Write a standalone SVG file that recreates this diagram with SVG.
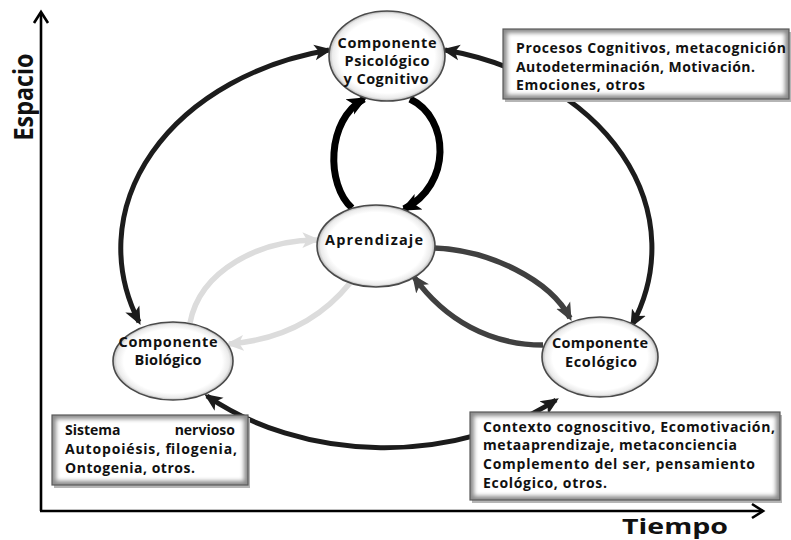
<svg xmlns="http://www.w3.org/2000/svg" width="791" height="540" viewBox="0 0 791 540">
<style>
  text { font-family: "Open Sans", "Liberation Sans", sans-serif; font-weight: bold; fill: #111; }
  .nt { font-size: 14.5px; text-anchor: middle; }
  .bt { font-size: 14px; }
  .node { fill: url(#nodeGrad); stroke: #4a4a4a; stroke-width: 1.6; }
  .outer { fill: none; stroke: #1c1c1c; stroke-width: 5; marker-start: url(#ahOuter); marker-end: url(#ahOuter); }
  .inner { fill: none; stroke: #000; stroke-width: 7; marker-end: url(#ahInner); }
  .eco { fill: none; stroke: #404040; stroke-width: 5.5; marker-end: url(#ahEco); }
  .bio { fill: none; stroke: #dcdcdc; stroke-width: 5.5; marker-end: url(#ahBio); }
  .axis { fill: none; stroke: #000; stroke-width: 2.6; }
  .boxbg { fill: #8c8c8c; }
  .boxshadow { fill: #b5b5b5; }
  .boxin { fill: #fff; filter: url(#soft); }
  .boxframe { fill: none; stroke: #5a5a5a; stroke-width: 1.2; }
</style>
<defs>
  <radialGradient id="nodeGrad" cx="50%" cy="50%" r="50%">
    <stop offset="0" stop-color="#ffffff"/>
    <stop offset="0.82" stop-color="#ffffff"/>
    <stop offset="0.94" stop-color="#ebebeb"/>
    <stop offset="1" stop-color="#b4b4b4"/>
  </radialGradient>
  <filter id="soft" x="-0.05" y="-0.1" width="1.1" height="1.2">
    <feGaussianBlur stdDeviation="2.2"/>
  </filter>
  <marker id="ahOuter" markerUnits="userSpaceOnUse" markerWidth="18" markerHeight="18" viewBox="0 0 16 16" refX="13" refY="8" orient="auto-start-reverse">
    <path d="M0,1 L16,8 L0,15 L4,8 z" fill="#1c1c1c"/>
  </marker>
  <marker id="ahInner" markerUnits="userSpaceOnUse" markerWidth="20" markerHeight="20" viewBox="0 0 16 16" refX="13" refY="8" orient="auto">
    <path d="M0,1 L16,8 L0,15 L4,8 z" fill="#000"/>
  </marker>
  <marker id="ahEco" markerUnits="userSpaceOnUse" markerWidth="18" markerHeight="18" viewBox="0 0 16 16" refX="13" refY="8" orient="auto">
    <path d="M0,1 L16,8 L0,15 L4,8 z" fill="#404040"/>
  </marker>
  <marker id="ahBio" markerUnits="userSpaceOnUse" markerWidth="18" markerHeight="18" viewBox="0 0 16 16" refX="13" refY="8" orient="auto">
    <path d="M0,1 L16,8 L0,15 L4,8 z" fill="#dcdcdc"/>
  </marker>
</defs>

<rect width="791" height="540" fill="#fff"/>

<g id="axes">
  <path class="axis" d="M41,511 L41,13"/>
  <path class="axis" d="M34,23 L41,12 L48,23"/>
  <path class="axis" d="M40,511 L762,511"/>
  <path class="axis" d="M752,504 L763,511 L752,518"/>
  <text x="0" y="0" transform="translate(33,97) rotate(-90)" font-size="26" text-anchor="middle" textLength="87" lengthAdjust="spacingAndGlyphs">Espacio</text>
  <text x="622" y="534" font-size="22" textLength="106" lengthAdjust="spacingAndGlyphs">Tiempo</text>
</g>

<g id="connectors">
  <path class="outer" d="M139,322 A266,203 0 0 1 329,50"/>
  <path class="outer" d="M445,50 A266,203 0 0 1 632,325"/>
  <path class="outer" d="M556,400 A266,203 0 0 1 207,396"/>
  <path class="inner" d="M352,208 C326,185 326,120 364,99"/>
  <path class="inner" d="M410,99 C450,118 452,185 404,209"/>
  <path class="eco" d="M434,248 C490,250 550,280 570,318"/>
  <path class="eco" d="M543,345 C490,345 445,320 414,277"/>
  <path class="bio" d="M190,323 C200,270 260,240 317,240"/>
  <path class="bio" d="M350,283 C320,320 280,340 229,344"/>
</g>

<g id="psicologico">
  <ellipse class="node" cx="387" cy="56" rx="58" ry="45"/>
  <text class="nt" x="387" y="48" textLength="99">Componente</text>
  <text class="nt" x="387" y="66" textLength="85">Psicológico</text>
  <text class="nt" x="386" y="84" textLength="85">y Cognitivo</text>
</g>

<g id="aprendizaje">
  <ellipse class="node" cx="376" cy="246" rx="59" ry="41"/>
  <text class="nt" x="374" y="245" textLength="98">Aprendizaje</text>
</g>

<g id="biologico">
  <ellipse class="node" cx="173" cy="361" rx="60" ry="39"/>
  <text class="nt" x="168" y="347" textLength="99">Componente</text>
  <text class="nt" x="168" y="365" textLength="67">Biológico</text>
</g>

<g id="ecologico">
  <ellipse class="node" cx="600" cy="357" rx="58" ry="40"/>
  <text class="nt" x="600" y="348" textLength="96">Componente</text>
  <text class="nt" x="601" y="367" textLength="72">Ecológico</text>
</g>

<g id="box-psicologico">
  <rect class="boxshadow" x="505" y="32" width="286" height="70"/>
  <rect class="boxbg" x="503" y="29" width="286" height="70"/>
  <rect class="boxin" x="507" y="33" width="278" height="62"/>
  <rect class="boxframe" x="503" y="29" width="286" height="70"/>
  <text class="bt" x="516" y="53" textLength="270">Procesos Cognitivos, metacognición</text>
  <text class="bt" x="516" y="72" textLength="239">Autodeterminación, Motivación.</text>
  <text class="bt" x="516" y="90" textLength="129">Emociones, otros</text>
</g>

<g id="box-biologico">
  <rect class="boxshadow" x="54" y="418" width="196" height="70"/>
  <rect class="boxbg" x="52" y="415" width="196" height="70"/>
  <rect class="boxin" x="56" y="419" width="188" height="62"/>
  <rect class="boxframe" x="52" y="415" width="196" height="70"/>
  <text class="bt" x="65" y="435">Sistema</text>
  <text class="bt" x="235" y="435" text-anchor="end">nervioso</text>
  <text class="bt" x="65" y="454" textLength="172">Autopoiésis, filogenia,</text>
  <text class="bt" x="65" y="473" textLength="130">Ontogenia, otros.</text>
</g>

<g id="box-ecologico">
  <rect class="boxshadow" x="472" y="415" width="310" height="88"/>
  <rect class="boxbg" x="470" y="412" width="310" height="88"/>
  <rect class="boxin" x="474" y="416" width="302" height="80"/>
  <rect class="boxframe" x="470" y="412" width="310" height="88"/>
  <text class="bt" x="483" y="432" textLength="292">Contexto cognoscitivo, Ecomotivación,</text>
  <text class="bt" x="483" y="450" textLength="254">metaaprendizaje, metaconciencia</text>
  <text class="bt" x="483" y="469" textLength="272">Complemento del ser, pensamiento</text>
  <text class="bt" x="483" y="488" textLength="124">Ecológico, otros.</text>
</g>
</svg>
